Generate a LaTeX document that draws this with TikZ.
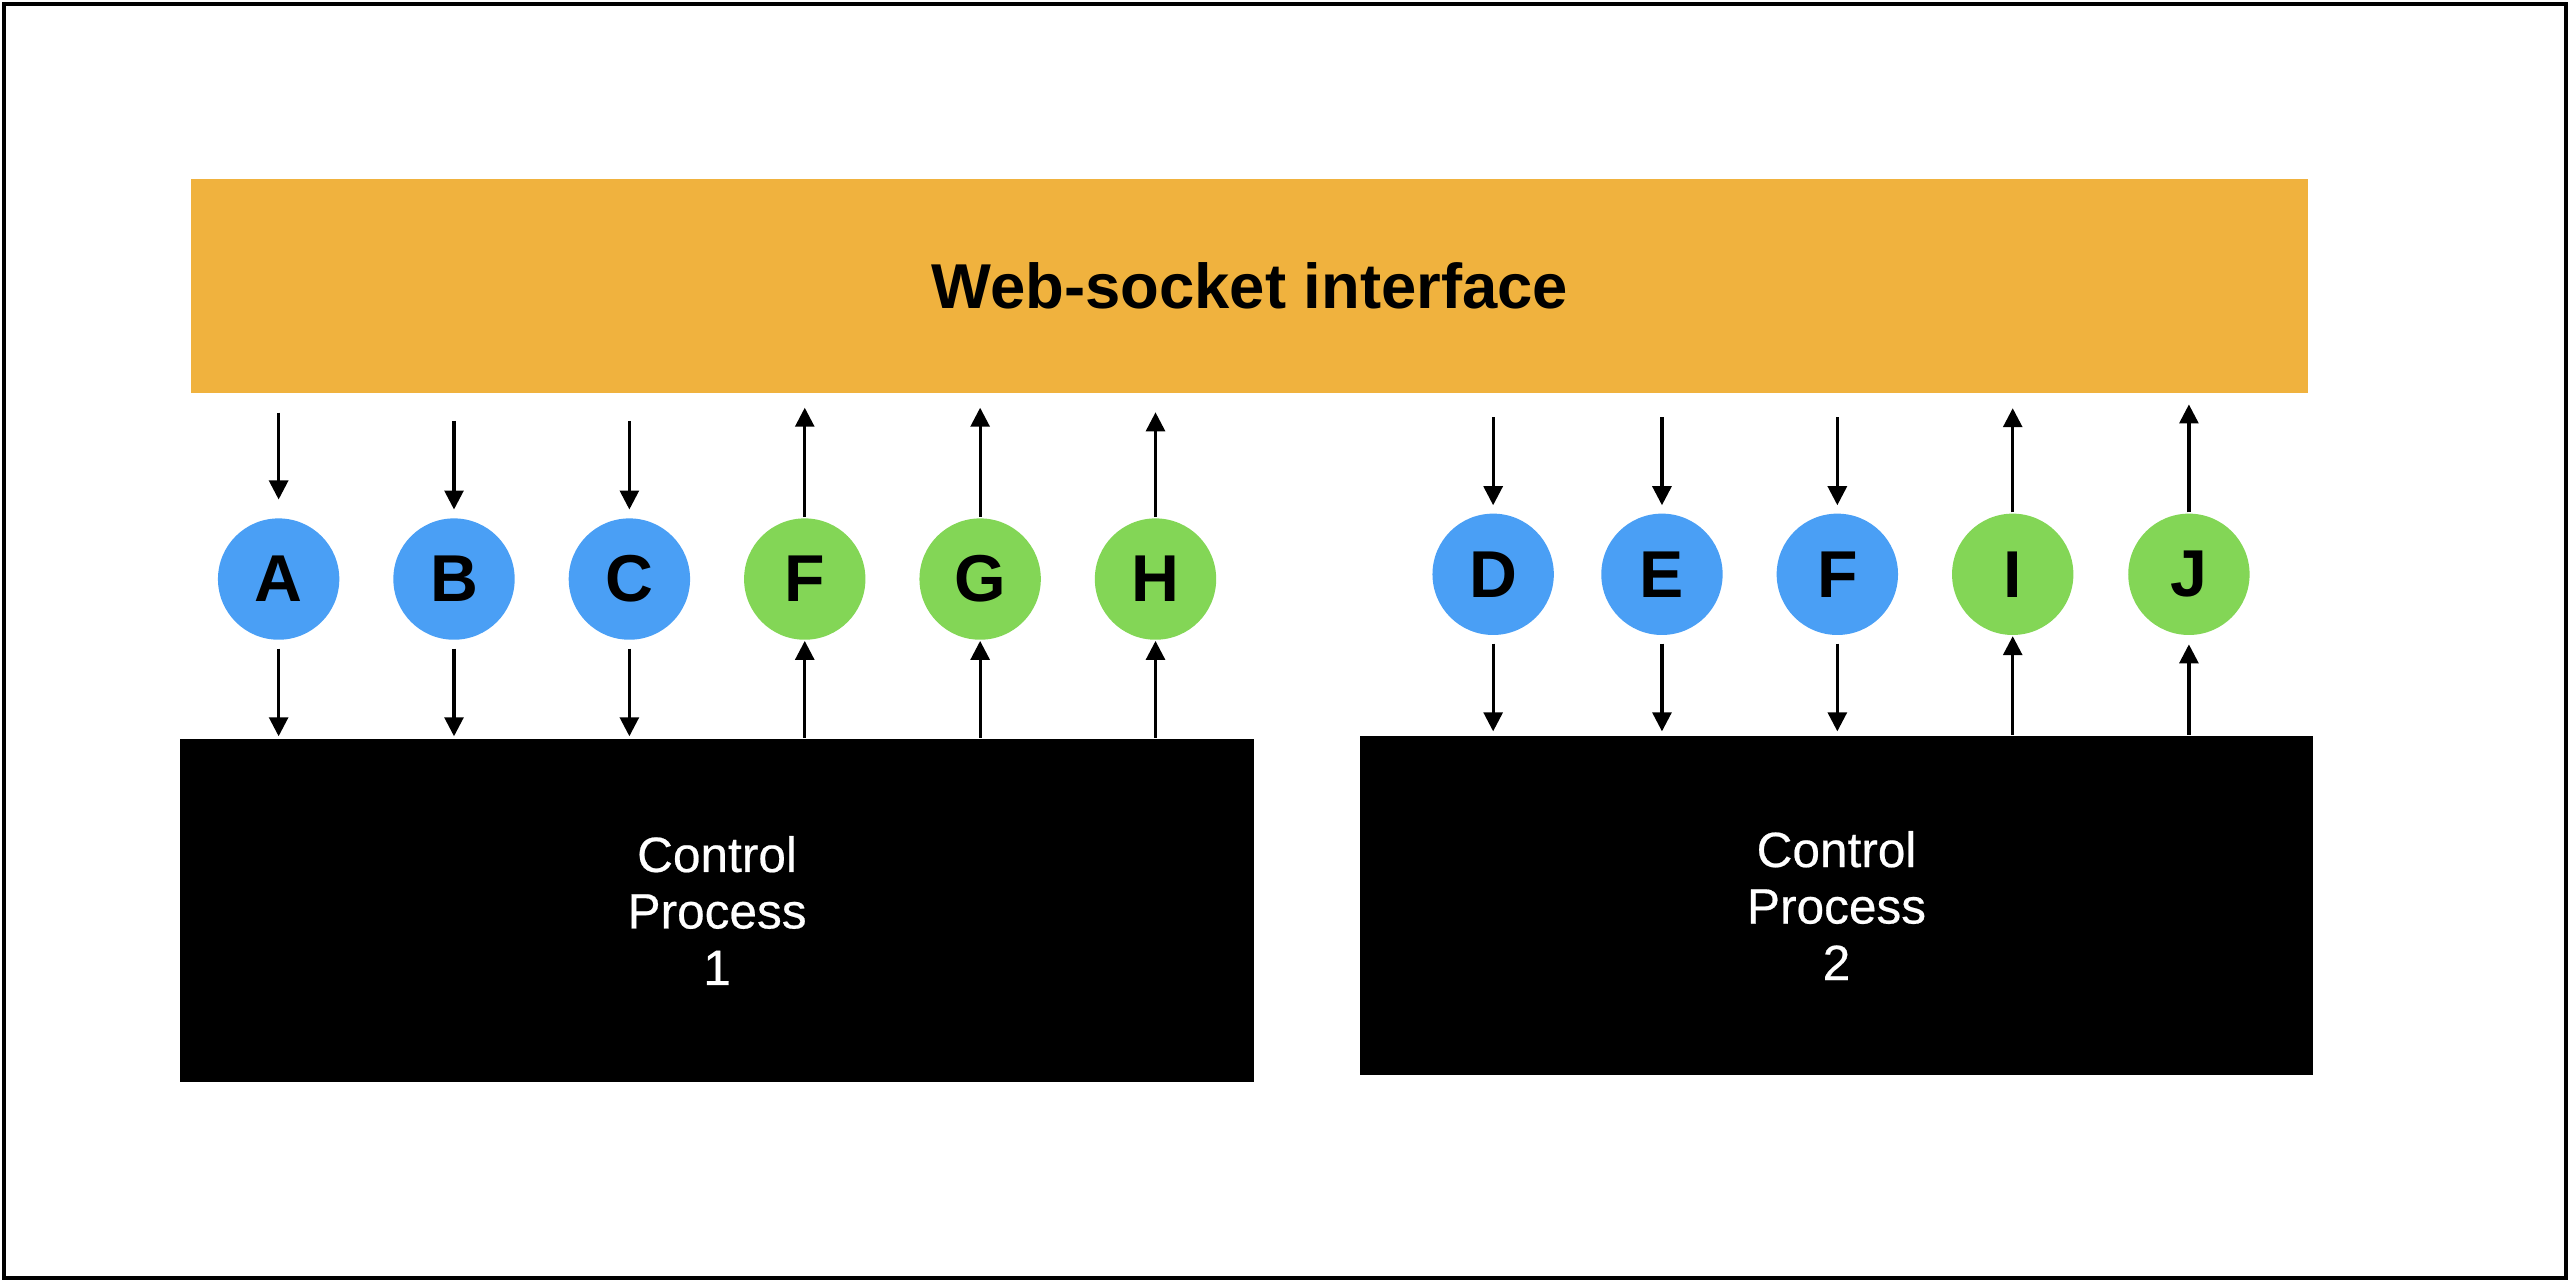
\documentclass[tikz,border=0pt]{standalone}
\usepackage{fontspec}
\setmainfont{Liberation Sans}
\newfontfamily\medfont{Liberation Sans}[FakeBold=0.45]
\usetikzlibrary{arrows.meta}
\definecolor{barorange}{RGB}{240,178,62}
\definecolor{cblue}{RGB}{74,159,245}
\definecolor{cgreen}{RGB}{131,214,86}
\tikzset{
  inbox/.style={circle, minimum size=0.74cm, inner sep=0pt, fill=cblue, font=\bfseries\fontsize{11.5}{12}\selectfont},
  outbox/.style={inbox, fill=cgreen},
  procbox/.style={fill=black, text=white, inner sep=0pt, align=center, font=\medfont\fontsize{8.6}{9.8}\selectfont},
  arr/.style={line width=0.02cm, -{Triangle[width=0.115cm,length=0.116cm]}}
}
\begin{document}
\begin{tikzpicture}[x=0.01cm, y=-0.01cm]
\useasboundingbox (0,0) rectangle (1568,782);
\draw[line width=0.0244cm] (2.44,2.44) rectangle (1565.56,779.56);

\node[fill=barorange, minimum width=12.91cm, minimum height=1.31cm, inner sep=0pt,
      font=\bfseries\fontsize{11}{13}\selectfont] (ws) at (762.5,174.5) {Web-socket interface};

\node[procbox, minimum width=6.55cm, minimum height=2.09cm] (P1) at (437.5,555.5) {Control\\Process\\1};
\node[procbox, minimum width=5.81cm, minimum height=2.07cm] (P2) at (1120.5,552.5) {Control\\Process\\2};

% left group
\node[inbox]  (A)  at (170,353.3) {A};
\node[inbox]  (B)  at (277,353.3) {B};
\node[inbox]  (C)  at (384,353.3) {C};
\node[outbox] (F1) at (491,353.3) {F};
\node[outbox] (G)  at (598,353.3) {G};
\node[outbox] (H)  at (705,353.3) {H};
% right group
\node[inbox]  (D)  at (911,350.4) {D};
\node[inbox]  (E)  at (1014,350.4) {E};
\node[inbox]  (F2) at (1121,350.4) {F};
\node[outbox] (I)  at (1228,350.4) {I};
\node[outbox] (J)  at (1335.5,350.4) {J};

% inputs: web-socket -> circle -> process
\draw[arr, shorten <=0.11cm, shorten >=0.108cm] (ws.south -| A) -- (A.north);
\draw[arr, shorten <=0.16cm, shorten >=0.047cm] (ws.south -| B) -- (B.north);
\draw[arr, shorten <=0.16cm, shorten >=0.047cm] (ws.south -| C) -- (C.north);
\foreach \n in {A,B,C}{
  \draw[arr, shorten <=0.047cm, shorten >=0.01cm] (\n.south) -- (\n.south |- P1.north);
}
\foreach \n in {D,E,F2}{
  \draw[arr, shorten <=0.138cm, shorten >=0.044cm] (ws.south -| \n) -- (\n.north);
  \draw[arr, shorten <=0.045cm, shorten >=0.02cm] (\n.south) -- (\n.south |- P2.north);
}

% outputs: process -> circle -> web-socket
\draw[arr] (P1.north -| F1) -- (F1.south);
\draw[arr] (P1.north -| G) -- (G.south);
\draw[arr] (P1.north -| H) -- (H.south);
\draw[arr, shorten >=0.08cm] (F1.north) -- (F1.north |- ws.south);
\draw[arr, shorten >=0.08cm] (G.north) -- (G.north |- ws.south);
\draw[arr, shorten >=0.108cm] (H.north) -- (H.north |- ws.south);

\draw[arr] (P2.north -| I) -- (I.south);
\draw[arr, shorten >=0.05cm] (P2.north -| J) -- (J.south);
\draw[arr, shorten >=0.083cm] (I.north) -- (I.north |- ws.south);
\draw[arr, shorten >=0.06cm] (J.north) -- (J.north |- ws.south);
\end{tikzpicture}
\end{document}
